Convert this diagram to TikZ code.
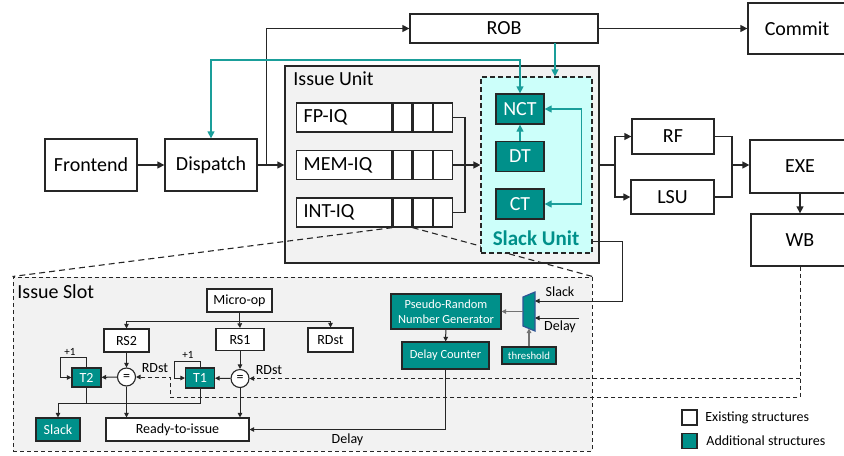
\documentclass[tikz,border=0pt]{standalone}
\usepackage{fontspec}
\setmainfont{Carlito}
\usetikzlibrary{positioning,arrows.meta,calc}
\definecolor{cteal}{HTML}{00908A}
\definecolor{clteal}{HTML}{1A9E9A}
\definecolor{cpale}{HTML}{CCFFFA}
\definecolor{cgray}{HTML}{F2F2F2}
\definecolor{cline}{HTML}{262626}
\definecolor{cmux}{HTML}{2F5597}

\begin{document}
\begin{tikzpicture}[x=0.5pt, y=-0.5pt,
 blk/.style={rectangle, draw=cline, fill=white, line width=0.65pt, inner sep=0pt,
 font=\fontsize{10}{12}\selectfont},
 addb/.style={blk, fill=cteal, text=white},
 sblk/.style={rectangle, draw=cline, fill=white, line width=0.55pt, inner sep=0pt,
 font=\fontsize{7}{8.5}\selectfont},
 sadd/.style={sblk, fill=cteal, text=white, font=\fontsize{6}{7.2}\selectfont, align=center},
 cmp/.style={circle, draw=cline, fill=white, line width=0.55pt, inner sep=0pt,
 minimum size=9pt, font=\fontsize{7}{8}\selectfont},
 lbl/.style={inner sep=0pt, font=\fontsize{10}{12}\selectfont},
 slbl/.style={inner sep=0pt, font=\fontsize{7}{8.5}\selectfont},
 a/.style={-{Stealth[length=3.5pt,width=3.5pt,inset=0pt]}, draw=cline, line width=0.65pt},
 ln/.style={draw=cline, line width=0.65pt},
 ta/.style={-{Stealth[length=3.5pt,width=3.5pt,inset=0pt]}, draw=clteal, line width=0.65pt},
 tta/.style={{Stealth[length=3.5pt,width=3.5pt,inset=0pt]}-{Stealth[length=3.5pt,width=3.5pt,inset=0pt]},
 draw=clteal, line width=0.65pt},
 sa/.style={-{Stealth[length=2.3pt,width=2.3pt,inset=0pt]}, draw=cline, line width=0.5pt},
 sl/.style={draw=cline, line width=0.5pt},
 da/.style={sa, dash pattern=on 2pt off 1.5pt},
 ga/.style={sa, draw=black!55, line width=0.6pt},
 prj/.style={draw=cline, line width=0.55pt, dash pattern=on 3pt off 2pt},
]
 \useasboundingbox (0,0) rectangle (844,455);

 % pipeline
 \node[blk, minimum width=46pt, minimum height=26pt] (FE) at (91,165) {Frontend};
 \node[blk, minimum width=46pt, minimum height=26pt] (DP) at (211,165) {Dispatch};
 \node[blk, minimum width=94pt, minimum height=14.5pt] (ROB) at (504,28.5) {ROB};
 \node[blk, minimum width=49pt, minimum height=25.5pt] (CM) at (797,28.5) {Commit};
 \node[blk, minimum width=41pt, minimum height=17.5pt] (RF) at (673,136.5) {RF};
 \node[blk, minimum width=41.5pt, minimum height=17pt] (LSU) at (672.5,197) {LSU};
 \node[blk, minimum width=50pt, minimum height=26.5pt] (EXE) at (800,166.5) {EXE};
 \node[blk, minimum width=49pt, minimum height=26pt] (WB) at (800,240) {WB};

 % issue slot (zoomed)
 \node[rectangle, draw=cline, fill=cgray, line width=0.5pt, dash pattern=on 2pt off 1.5pt,
 minimum width=289.5pt, minimum height=87pt, inner sep=0pt] (IS) at (302.5,364) {};
 \node[lbl, anchor=west] (ISl) at (17,292) {Issue Slot};

 % issue unit
 \node[blk, fill=cgray, minimum width=157pt, minimum height=98.5pt] (IU) at (442,164.5) {};
 \node[lbl, anchor=west] (IUl) at (293,79) {Issue Unit};
 \foreach \q/\y in {FP/117.5,MEM/165,INT/212.5}{
 \node[blk, text width=40.5pt, inner xsep=3.5pt, align=left, minimum height=14.5pt,
 anchor=west] (\q) at (296,\y) {\q-IQ};
 \node[blk, minimum width=9.5pt, minimum height=14.5pt, right=0pt of \q] (\q1) {};
 \node[blk, minimum width=9.5pt, minimum height=14.5pt, right=0pt of \q1] (\q2) {};
 \node[blk, minimum width=9.5pt, minimum height=14.5pt, right=0pt of \q2] (\q3) {};
 }
 \draw[prj] (INT1.south west) -- (IS.north west);
 \draw[prj] (INT2.south west) -- (IS.north east);

 % slack unit
 \node[rectangle, draw=cline, fill=cpale, line width=0.6pt, dash pattern=on 2.5pt off 1.5pt,
 minimum width=55.5pt, minimum height=88pt, inner sep=0pt] (SU) at (536.5,165) {};
 \node[lbl, font=\fontsize{10.5}{12}\selectfont\bfseries, text=cteal] (SUl) at (536,238) {Slack Unit};
 \node[addb, minimum width=24pt, minimum height=15pt] (NCT) at (520,109) {NCT};
 \node[addb, minimum width=24pt, minimum height=15pt] (DT) at (520,156.5) {DT};
 \node[addb, minimum width=24pt, minimum height=15pt] (CT) at (520,204) {CT};

 \coordinate (mg) at (465,165);
 \coordinate (tp) at (520,60);
 \coordinate (robt) at (555,43);
 \coordinate (sp) at (615,165);
 \coordinate (jn) at (732,165);

 \draw[a] (FE) -- (DP);
 \draw[a] (DP) -- (DP -| IU.west);
 \draw[a] (DP.east) -- ++(9,0) |- (ROB.west);
 \draw[a] (ROB) -- (CM);
 \draw[tta] (DP.north) |- (tp) -- (NCT.north);
 \draw[ta] (robt) -- (robt |- SU.north);
 \draw[ln] (FP3.east) -| (mg);
 \draw[ln] (INT3.east) -| (mg);
 \draw[a] (MEM3.east) -- (SU.west);
 \draw[ta] (DT) -- (NCT);
 \draw[tta] (NCT.east) -- ++(37,0) |- (CT.east);
 \draw[ln] (IU.east |- sp) -- (sp);
 \draw[a] (sp) |- (RF.west);
 \draw[a] (sp) |- (LSU.west);
 \draw[ln] (RF.east) -| (jn);
 \draw[ln] (LSU.east) -| (jn);
 \draw[a] (jn) -- (EXE.west |- jn);
 \draw[a] (EXE) -- (WB);

 % inside the issue slot
 \node[sblk, minimum width=32.5pt, minimum height=11.5pt] (MOP) at (239.5,300.5) {Micro-op};
 \node[sblk, minimum width=22.5pt, minimum height=11.5pt] (RS2) at (126.5,340.5) {RS2};
 \node[sblk, minimum width=24pt, minimum height=11pt] (RS1) at (240,339.5) {RS1};
 \node[sblk, minimum width=22.5pt, minimum height=12pt] (RDst) at (330.5,340) {RDst};
 \node[cmp] (EQ2) at (126.5,377) {=};
 \node[cmp] (EQ1) at (240,378.5) {=};
 \node[sadd, minimum width=14.5pt, minimum height=9.5pt, font=\fontsize{7}{8}\selectfont] (T2) at (86.5,377.5) {T2};
 \node[sadd, minimum width=14.5pt, minimum height=10pt, font=\fontsize{7}{8}\selectfont] (T1) at (200,378) {T1};
 \node[sadd, minimum width=22pt, minimum height=11.5pt, font=\fontsize{7}{8}\selectfont] (SLK) at (58,429.5) {Slack};
 \node[sblk, minimum width=71.5pt, minimum height=11.5pt] (RDY) at (177.5,429.5) {Ready-to-issue};
 \node[sadd, minimum width=55pt, minimum height=17.5pt, font=\fontsize{6.2}{7.6}\selectfont] (PRNG) at (446,311.5) {Pseudo-Random\\Number Generator};
 \node[sadd, minimum width=43.5pt, minimum height=13.5pt, font=\fontsize{6.2}{7.6}\selectfont] (DC) at (445.5,355.5) {Delay Counter};
 \node[sadd, minimum width=27pt, minimum height=8.5pt, font=\fontsize{5.4}{6.5}\selectfont] (TH) at (529,355.5) {threshold};

 % mux
 \filldraw[fill=cteal, draw=cmux, line width=0.6pt] (523,297) -- (535,292) -- (535,331) -- (523,326) -- cycle;
 \coordinate (muxs) at (535,301);
 \coordinate (muxd) at (535,318);
 \coordinate (muxo) at (523,311.5);
 \coordinate (muxb) at (529,328.5);
 \coordinate (sk) at (622,301);
 \coordinate (dlin) at (579,318);
 \coordinate (mb) at (239.5,321);
 \coordinate (sj) at (58,403);
 \coordinate (rdc) at (170,397);

 \draw[sl] (MOP.south) -- (mb);
 \draw[sa] (mb) -- (RS1.north);
 \draw[sa] (mb) -| (RS2.north);
 \draw[sa] (mb) -| (RDst.north);
 \draw[sa] (RS2) -- (EQ2);
 \draw[sa] (RS1) -- (EQ1);
 \draw[sa] (EQ2) -- (T2);
 \draw[sa] (EQ1) -- (T1);
 \draw[sa] (T2.north) |- ([xshift=-5.5pt,yshift=5pt]T2.north west) |- (T2.west);
 \draw[sa] (T1.north) |- ([xshift=-5pt,yshift=3pt]T1.north west) |- (T1.west);
 \node[slbl, font=\fontsize{5.5}{6.5}\selectfont] (p2) at (70,352) {+1};
 \node[slbl, font=\fontsize{5.5}{6.5}\selectfont] (p1) at (188,355) {+1};
 \draw[sa] (EQ2) -- (EQ2 |- RDY.north);
 \draw[sa] (EQ1) -- (EQ1 |- RDY.north);
 \draw[sl] (T2.south) -- (T2.south |- sj);
 \draw[sa] (T1.south) |- (sj) -- (SLK.north);
 \draw[da] (WB.south) |- (rdc) |- (EQ2.east);
 \draw[da] (WB.south |- EQ1.east) -- (EQ1.east);
 \node[slbl] (rd2) at (155,368) {RDst};
 \node[slbl] (rd1) at (269,370) {RDst};

 \draw[sa] (PRNG) -- (DC);
 \draw[sa] (DC.south) |- (RDY.east) node[pos=0.75, below=2pt, slbl] {Delay};
 \draw[ga] (muxo) -- (PRNG.east);
 \draw[ga] (TH) -- (muxb);
 \draw[sa] ([yshift=6pt]SU.south east) -| (sk) -- (muxs);
 \draw[sa] (dlin) -- (muxd);
 \node[slbl] (skl) at (560,292) {Slack};
 \node[slbl] (dll) at (560,327) {Delay};

 % legend
 \node[sblk, minimum size=7.5pt] (lgE) at (689.5,417.5) {};
 \node[slbl, anchor=west] (lgEt) at (705,417.5) {Existing structures};
 \node[sblk, fill=cteal, minimum size=7.5pt] (lgA) at (689.5,441) {};
 \node[slbl, anchor=west] (lgAt) at (706,441) {Additional structures};
\end{tikzpicture}
\end{document}
